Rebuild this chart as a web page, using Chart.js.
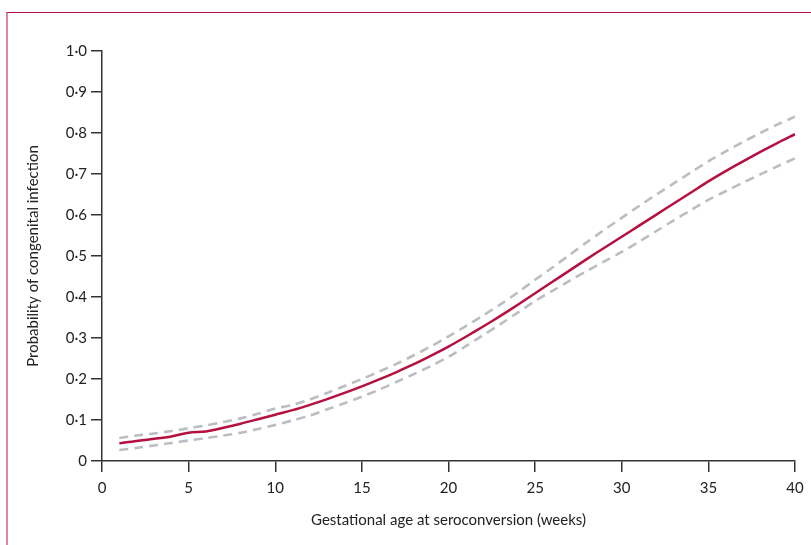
<!DOCTYPE html>
<html>
<head>
<meta charset="utf-8">
<script src="https://cdn.jsdelivr.net/npm/chart.js@4"></script>
<style>
  html, body { margin: 0; padding: 0; background: #fff; }
  #wrap { position: relative; width: 811px; height: 545px; overflow: hidden; }
  #frame { position: absolute; left: 6px; top: 12px; right: -2px; bottom: -2px;
           border-left: 2px solid #d98aa2; border-top: 1px solid #b3123f; }
  canvas { position: absolute; left: 0; top: 0; }
</style>
</head>
<body>
<div id="wrap">
  <div id="frame"></div>
  <canvas id="chart" width="811" height="545"></canvas>
</div>
<script>
// weeks of gestation at maternal seroconversion
const weeks = [1,2,3,4,5,6,7,8,9,10,11,12,13,14,15,16,17,18,19,20,
               21,22,23,24,25,26,27,28,29,30,31,32,33,34,35,36,37,38,39,40];

// estimated probability of congenital infection
const estimate = [0.043,0.049,0.054,0.060,0.069,0.072,0.081,0.091,0.102,0.113,
                  0.124,0.137,0.151,0.166,0.182,0.199,0.217,0.236,0.257,0.279,
                  0.303,0.328,0.354,0.381,0.409,0.437,0.465,0.493,0.520,0.547,
                  0.574,0.601,0.628,0.655,0.682,0.707,0.731,0.754,0.776,0.797];

// 95% CI bounds
const upper = [0.056,0.062,0.067,0.073,0.080,0.087,0.095,0.104,0.115,0.128,
               0.137,0.150,0.166,0.183,0.200,0.218,0.237,0.258,0.280,0.304,
               0.329,0.355,0.382,0.411,0.442,0.472,0.503,0.534,0.564,0.593,
               0.622,0.650,0.677,0.704,0.731,0.755,0.778,0.800,0.821,0.840];

const lower = [0.027,0.032,0.038,0.044,0.050,0.056,0.062,0.069,0.078,0.088,
               0.099,0.111,0.126,0.141,0.157,0.174,0.193,0.212,0.232,0.254,
               0.280,0.307,0.334,0.362,0.390,0.415,0.440,0.464,0.487,0.510,
               0.535,0.561,0.587,0.612,0.637,0.658,0.679,0.699,0.719,0.738];

const xTicks = [0,5,10,15,20,25,30,35,40];
const yTickLabels = ['0','0·1','0·2','0·3','0·4','0·5','0·6','0·7','0·8','0·9','1·0'];

const toPoints = vals => weeks.map((w, i) => ({ x: w, y: vals[i] }));

const FONT = { family: 'Lato, "Open Sans", sans-serif', size: 15 };
const INK = '#222';
const AXIS = '#333';

new Chart(document.getElementById('chart'), {
  type: 'line',
  data: {
    datasets: [
      { data: toPoints(upper), borderColor: '#babec4', borderWidth: 2.6,
        borderDash: [9, 6], pointRadius: 0, tension: 0.3, order: 2 },
      { data: toPoints(lower), borderColor: '#babec4', borderWidth: 2.6,
        borderDash: [9, 6], pointRadius: 0, tension: 0.3, order: 2 },
      { data: toPoints(estimate), borderColor: '#b5103f', borderWidth: 2.5,
        pointRadius: 0, tension: 0.3, order: 1 },
    ],
  },
  options: {
    responsive: false,
    animation: false,
    layout: { padding: { top: 51, right: 16, left: 0, bottom: 0 } },
    plugins: { legend: { display: false }, tooltip: { enabled: false } },
    scales: {
      x: {
        type: 'linear', min: 0, max: 40,
        afterBuildTicks: s => { s.ticks = xTicks.map(v => ({ value: v })); },
        afterFit: s => { s.height = 84; },
        border: { display: true, color: AXIS, width: 1.5 },
        grid: { drawOnChartArea: false, drawTicks: true, tickLength: 11, color: AXIS, lineWidth: 1.5 },
        ticks: { color: INK, font: FONT, padding: 7, maxRotation: 0 },
        title: { display: true, text: 'Gestational age at seroconversion (weeks)',
                 color: INK, font: FONT, padding: { top: 0, bottom: 16 } },
      },
      y: {
        type: 'linear', min: 0, max: 1,
        afterBuildTicks: s => { s.ticks = yTickLabels.map((t, i) => ({ value: i / 10 })); },
        afterFit: s => { s.width = 102; },
        border: { display: true, color: AXIS, width: 1.5 },
        grid: { drawOnChartArea: false, drawTicks: true, tickLength: 11, color: AXIS, lineWidth: 1.5 },
        ticks: { color: INK, font: FONT, padding: 4,
                 callback: (v, i) => yTickLabels[i] },
        title: { display: true, text: 'Probability of congenital infection',
                 color: INK, font: FONT, padding: { top: 24, bottom: 0 } },
      },
    },
  },
});
</script>
</body>
</html>
